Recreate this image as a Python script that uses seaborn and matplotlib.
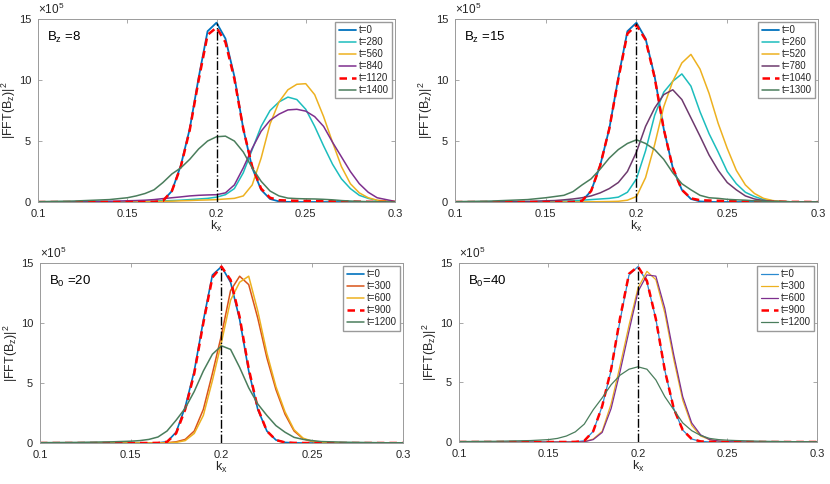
import matplotlib
matplotlib.use("Agg")
import matplotlib.pyplot as plt
import seaborn as sns

# k_x grid (coarser in the tails)
kx = [0.10, 0.12, 0.14, 0.15, 0.155, 0.16, 0.165, 0.17, 0.175, 0.18, 0.185,
      0.19, 0.195, 0.20, 0.205, 0.21, 0.215, 0.22, 0.225, 0.23, 0.235, 0.24,
      0.245, 0.25, 0.255, 0.26, 0.265, 0.27, 0.275, 0.28, 0.285, 0.29, 0.30]
k0 = 0.2

# |FFT(Bz)|^2 in units of 1e5, initial spectrum (same in every run)
t0_spec = [0, 0, 0, 0, 0, 0, 0.01, 0.1, 0.9, 3.0, 6.0, 10.2, 14.0, 14.7, 13.4, 10.3,
           6.0, 2.8, 1.0, 0.25, 0.05, 0.01, 0, 0, 0, 0, 0, 0, 0, 0, 0, 0, 0]

# Bz = 8
bz8_t280 = [0, 0, 0.02, 0.03, 0.04, 0.05, 0.07, 0.1, 0.12, 0.15, 0.2, 0.25, 0.3, 0.4,
            0.6, 1.1, 2.4, 4.3, 6.2, 7.5, 8.2, 8.6, 8.4, 7.6, 6.2, 4.6, 3.1, 1.9, 1.1,
            0.55, 0.3, 0.12, 0.02]
bz8_t560 = [0, 0, 0, 0.01, 0.02, 0.03, 0.04, 0.05, 0.07, 0.1, 0.12, 0.15, 0.17, 0.2,
            0.25, 0.3, 0.5, 1.4, 3.6, 6.4, 8.2, 9.2, 9.65, 9.7, 8.8, 7.0, 4.9, 2.9, 1.5,
            0.75, 0.35, 0.15, 0.02]
bz8_t840 = [0, 0.02, 0.06, 0.1, 0.12, 0.15, 0.2, 0.28, 0.35, 0.42, 0.5, 0.55, 0.58, 0.6,
            0.75, 1.4, 2.8, 4.4, 5.8, 6.7, 7.2, 7.55, 7.6, 7.45, 7.0, 6.2, 4.9, 3.7, 2.5,
            1.5, 0.8, 0.35, 0.05]
bz8_t1120 = [0, 0, 0, 0, 0, 0, 0.01, 0.1, 0.9, 2.9, 5.9, 10.0, 13.7, 14.3, 13.1, 10.1,
             6.0, 2.9, 1.1, 0.35, 0.15, 0.12, 0.1, 0.1, 0.09, 0.08, 0.06, 0.05, 0.04,
             0.03, 0.02, 0.01, 0]
bz8_t1400 = [0.03, 0.08, 0.2, 0.35, 0.5, 0.7, 1.0, 1.6, 2.3, 2.8, 3.5, 4.35, 5.0, 5.35,
             5.4, 5.0, 4.1, 2.8, 1.7, 0.9, 0.5, 0.32, 0.28, 0.26, 0.25, 0.22, 0.18, 0.12,
             0.08, 0.05, 0.03, 0.02, 0.01]

# Bz = 15
bz15_t260 = [0, 0, 0.02, 0.04, 0.05, 0.07, 0.1, 0.15, 0.2, 0.25, 0.3, 0.4, 0.8, 1.9,
             4.2, 7.1, 9.0, 9.9, 10.5, 9.5, 7.4, 5.6, 4.1, 2.5, 1.5, 0.8, 0.45, 0.2, 0.1,
             0.05, 0.02, 0.01, 0]
bz15_t520 = [0, 0, 0, 0, 0, 0, 0, 0.01, 0.02, 0.03, 0.04, 0.06, 0.15, 0.45, 2.0, 4.7,
             7.8, 9.9, 11.4, 12.1, 10.9, 8.9, 6.45, 4.4, 2.6, 1.4, 0.7, 0.3, 0.12, 0.05,
             0.02, 0.01, 0]
bz15_t780 = [0, 0.02, 0.05, 0.1, 0.12, 0.18, 0.25, 0.35, 0.5, 0.75, 1.1, 1.6, 2.5, 4.1,
             6.2, 7.7, 8.8, 9.2, 8.4, 6.9, 5.4, 3.85, 2.6, 1.6, 1.0, 0.5, 0.25, 0.12,
             0.06, 0.03, 0.02, 0.01, 0]
bz15_t1040 = [0, 0, 0, 0, 0, 0, 0.01, 0.1, 0.9, 3.0, 6.0, 10.1, 13.8, 14.5, 13.3, 10.2,
              6.0, 2.8, 1.0, 0.3, 0.15, 0.12, 0.1, 0.08, 0.06, 0.05, 0.04, 0.03, 0.02,
              0.02, 0.01, 0.01, 0]
bz15_t1300 = [0.03, 0.08, 0.2, 0.35, 0.45, 0.55, 0.85, 1.4, 1.9, 2.7, 3.6, 4.3, 4.8,
              5.1, 4.8, 4.3, 3.5, 2.4, 1.5, 1.0, 0.55, 0.35, 0.3, 0.22, 0.18, 0.15, 0.1,
              0.07, 0.05, 0.03, 0.02, 0.01, 0.01]

# B0 = 20
b20_t300 = [0, 0, 0, 0, 0, 0, 0, 0.02, 0.1, 0.3, 1.0, 2.8, 5.8, 9.0, 12.7, 13.9, 13.2,
            10.4, 7.1, 4.45, 2.4, 1.0, 0.35, 0.12, 0.05, 0.03, 0.02, 0.01, 0, 0, 0, 0, 0]
b20_t600 = [0, 0, 0, 0, 0, 0, 0, 0.01, 0.05, 0.2, 0.8, 2.3, 5.2, 8.4, 11.9, 13.4, 13.9,
            11.0, 7.5, 4.7, 2.6, 1.1, 0.4, 0.15, 0.06, 0.03, 0.02, 0.01, 0, 0, 0, 0, 0]
b20_t900 = [0, 0, 0, 0, 0, 0, 0.01, 0.1, 0.8, 2.8, 5.8, 10.0, 13.8, 14.7, 13.6, 10.5,
            6.2, 2.9, 1.0, 0.25, 0.05, 0.01, 0, 0, 0, 0, 0, 0, 0, 0, 0, 0, 0]
b20_t1200 = [0.03, 0.05, 0.1, 0.15, 0.2, 0.3, 0.5, 1.0, 1.9, 2.9, 4.3, 6.0, 7.4, 8.1,
             7.8, 6.3, 4.6, 3.25, 2.3, 1.45, 0.9, 0.47, 0.3, 0.2, 0.12, 0.1, 0.08, 0.06,
             0.05, 0.04, 0.03, 0.02, 0.02]

# B0 = 40
b40_t300 = [0, 0, 0, 0, 0, 0, 0, 0.03, 0.25, 0.9, 3.2, 6.4, 9.8, 12.9, 14.3, 13.6, 10.8,
            6.9, 3.5, 1.4, 0.5, 0.2, 0.08, 0.03, 0.01, 0, 0, 0, 0, 0, 0, 0, 0]
b40_t600 = [0, 0, 0, 0, 0, 0, 0, 0.02, 0.2, 0.8, 2.8, 5.9, 9.3, 12.6, 14.0, 13.9, 11.2,
            7.3, 3.8, 1.6, 0.6, 0.2, 0.08, 0.03, 0.01, 0, 0, 0, 0, 0, 0, 0, 0]
b40_t900 = [0, 0, 0, 0, 0, 0, 0.01, 0.1, 0.9, 3.0, 6.1, 10.4, 14.1, 14.7, 13.5, 10.3,
            6.0, 2.8, 1.0, 0.25, 0.05, 0.01, 0, 0, 0, 0, 0, 0, 0, 0, 0, 0, 0]
b40_t1200 = [0.04, 0.06, 0.12, 0.2, 0.3, 0.5, 0.85, 1.5, 2.7, 3.7, 4.8, 5.6, 6.1, 6.3,
             6.1, 5.2, 3.8, 2.7, 1.6, 0.95, 0.55, 0.3, 0.2, 0.15, 0.12, 0.1, 0.08, 0.06,
             0.05, 0.04, 0.03, 0.03, 0.02]

blue = "#0072BD"
cyan = "#1CBDBD"
yellow = "#EDB120"
purple = "#7E2F8E"
dusk = "#6E3A6E"
orange = "#D95319"
green = "#4A7D5C"
red = "#FF0000"
dash = (0, (3, 2))

panels = [
    ("B$_{\\mathrm{z}}$ =8", [
        ("t=0", t0_spec, blue, "-", 1.3),
        ("t=280", bz8_t280, cyan, "-", 1.1),
        ("t=560", bz8_t560, yellow, "-", 1.1),
        ("t=840", bz8_t840, purple, "-", 1.1),
        ("t=1120", bz8_t1120, red, dash, 1.8),
        ("t=1400", bz8_t1400, green, "-", 1.1)]),
    ("B$_{\\mathrm{z}}$ =15", [
        ("t=0", t0_spec, blue, "-", 1.3),
        ("t=260", bz15_t260, cyan, "-", 1.1),
        ("t=520", bz15_t520, yellow, "-", 1.1),
        ("t=780", bz15_t780, dusk, "-", 1.1),
        ("t=1040", bz15_t1040, red, dash, 1.8),
        ("t=1300", bz15_t1300, green, "-", 1.1)]),
    ("B$_{\\mathrm{0}}$ =20", [
        ("t=0", t0_spec, blue, "-", 1.2),
        ("t=300", b20_t300, orange, "-", 1.1),
        ("t=600", b20_t600, yellow, "-", 1.1),
        ("t=900", b20_t900, red, dash, 1.8),
        ("t=1200", b20_t1200, green, "-", 1.1)]),
    ("B$_{\\mathrm{0}}$=40", [
        ("t=0", t0_spec, "#2A8AD0", "-", 0.9),
        ("t=300", b40_t300, yellow, "-", 0.9),
        ("t=600", b40_t600, purple, "-", 0.9),
        ("t=900", b40_t900, red, dash, 1.8),
        ("t=1200", b40_t1200, green, "-", 0.9)]),
]

# axes rectangles in figure fractions (left, bottom, width, height)
rects = [
    (0.0458, 0.5826, 0.4301, 0.3781),
    (0.5482, 0.5826, 0.4373, 0.3781),
    (0.0482, 0.0847, 0.4373, 0.3719),
    (0.5530, 0.0868, 0.4313, 0.3698),
]

sns.set_style("ticks")
plt.rcParams["font.family"] = ["Liberation Sans", "DejaVu Sans"]
plt.rcParams["mathtext.fontset"] = "custom"
plt.rcParams["mathtext.rm"] = "Liberation Sans"
plt.rcParams["mathtext.it"] = "Liberation Sans:italic"

fig = plt.figure(figsize=(8.3, 4.84), dpi=100)
grey = "#9a9a9a"

for rect, (title, series) in zip(rects, panels):
    ax = fig.add_axes(rect)
    for lab, vals, col, ls, lw in series:
        sns.lineplot(x=kx, y=vals, ax=ax, color=col, linestyle=ls,
                     linewidth=lw, label=lab)
    ax.vlines(k0, 0, max(t0_spec), colors="black", linestyles="-.", linewidth=1.0)

    ax.set_xlim(0.1, 0.3)
    ax.set_ylim(0, 15)
    ax.set_xticks([0.1, 0.15, 0.2, 0.25, 0.3])
    ax.set_xticklabels(["0.1", "0.15", "0.2", "0.25", "0.3"])
    ax.set_yticks([0, 5, 10, 15])
    ax.tick_params(direction="in", top=True, right=True, length=3, width=0.6,
                   color=grey, labelsize=8, labelcolor="#262626")
    ax.tick_params(axis="x", pad=5)
    ax.tick_params(axis="y", pad=5)
    for sp in ax.spines.values():
        sp.set_color(grey)
        sp.set_linewidth(0.7)
    ax.set_xlabel("k$_{\\mathrm{x}}$", fontsize=9, color="#262626", labelpad=0)
    ax.set_ylabel("|FFT(B$_{\\mathrm{z}}$)|$^{2}$", fontsize=9, color="#262626")
    # right side of the rotated label about 20 px left of the axis line
    ax.yaxis.set_label_coords(-20 / (rect[2] * 830), 0.5)
    ax.text(0.0, 1.01, "\u00d710$^{5}$", transform=ax.transAxes, fontsize=8.5,
            ha="left", va="bottom", color="#262626")
    ax.text(0.025, 0.94, title, transform=ax.transAxes, fontsize=9.5,
            ha="left", va="top", color="black")
    ax.legend(loc="upper right", fontsize=7, frameon=True, fancybox=False,
              edgecolor=grey, framealpha=1, handlelength=1.8, handletextpad=0.25,
              labelspacing=0.2, borderpad=0.35, borderaxespad=0.3)

fig.savefig("out.png", dpi=100)
